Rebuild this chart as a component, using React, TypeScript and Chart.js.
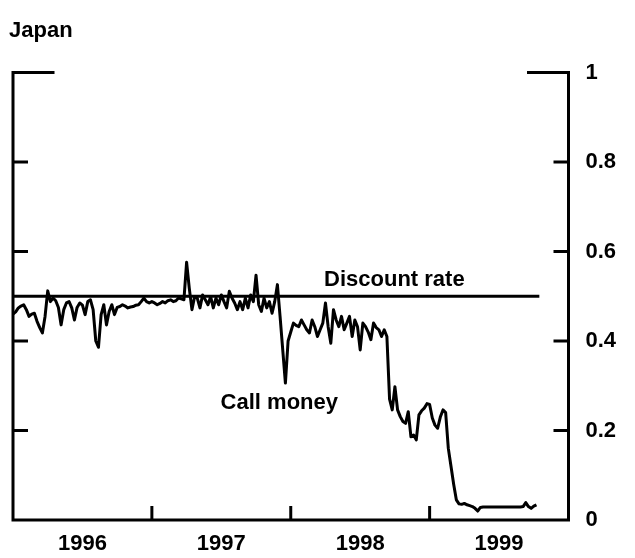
import React, { useEffect, useRef } from 'react';
import { Chart, registerables } from 'chart.js';

Chart.register(...registerables);

// ---- data ----
const chartTitle = 'Japan';
const discountLabel = 'Discount rate';
const callLabel = 'Call money';

const startYear = 1996;
const weeksPerYear = 52;

const callMoney1996 = [
  0.460, 0.465, 0.474, 0.478, 0.481, 0.470, 0.455, 0.460, 0.462, 0.444, 0.430, 0.418, 0.455,
  0.512, 0.488, 0.496, 0.490, 0.475, 0.436, 0.470, 0.485, 0.488, 0.474, 0.447, 0.475, 0.485,
  0.480, 0.459, 0.488, 0.492, 0.470, 0.400, 0.386, 0.459, 0.481, 0.436, 0.466, 0.481, 0.459,
  0.475, 0.477, 0.481, 0.478, 0.474, 0.476, 0.477, 0.480, 0.481, 0.488, 0.496, 0.488, 0.485,
];
const callMoney1997 = [
  0.488, 0.485, 0.481, 0.484, 0.488, 0.485, 0.490, 0.492, 0.488, 0.490, 0.496, 0.494, 0.492,
  0.576, 0.518, 0.470, 0.499, 0.496, 0.474, 0.503, 0.492, 0.481, 0.499, 0.474, 0.496, 0.481,
  0.503, 0.488, 0.474, 0.511, 0.496, 0.485, 0.470, 0.488, 0.470, 0.496, 0.474, 0.503, 0.488,
  0.547, 0.481, 0.466, 0.496, 0.474, 0.488, 0.462, 0.488, 0.526, 0.455, 0.380, 0.306, 0.400,
];
const callMoney1998 = [
  0.420, 0.440, 0.435, 0.432, 0.447, 0.436, 0.425, 0.418, 0.447, 0.432, 0.410, 0.425, 0.440,
  0.485, 0.432, 0.395, 0.470, 0.447, 0.432, 0.455, 0.425, 0.440, 0.455, 0.410, 0.447, 0.432,
  0.380, 0.440, 0.432, 0.420, 0.403, 0.440, 0.430, 0.425, 0.410, 0.425, 0.410, 0.270, 0.246,
  0.298, 0.246, 0.231, 0.220, 0.216, 0.242, 0.186, 0.190, 0.179, 0.235, 0.244, 0.250, 0.260,
];
const callMoney1999 = [
  0.258, 0.228, 0.212, 0.205, 0.230, 0.246, 0.240, 0.160, 0.120, 0.080, 0.045, 0.036, 0.035,
  0.037, 0.034, 0.032, 0.030, 0.026, 0.020, 0.028, 0.029, 0.029, 0.029, 0.029, 0.029, 0.029,
  0.029, 0.029, 0.029, 0.029, 0.029, 0.029, 0.029, 0.029, 0.029, 0.030, 0.039, 0.030, 0.026,
  0.031, 0.034,
];

const discountRateValue = 0.5;
const discountStart = 1996.0;
const discountEnd = 1999.79;

const xMin = 1996;
const xMax = 2000;
const yMin = 0;
const yMax = 1;
const yStep = 0.2;

// label anchors in data coordinates
const discountLabelAt = { x: 1998.24, y: 0.523 };
const callLabelAt = { x: 1997.495, y: 0.248 };

// ---- styles ----
const FONT = '"Liberation Sans", Arial, Helvetica, sans-serif';
const FONT_SIZE = 22;
const FONT_WEIGHT = 'bold';
const INK = '#000000';

const framePlugin = {
  id: 'framePlugin',
  afterDraw(chart: any) {
    const ctx = chart.ctx;
    const { left, right, top, bottom } = chart.chartArea;
    const xs = chart.scales.x;
    const ys = chart.scales.y;
    ctx.save();
    ctx.strokeStyle = INK;
    ctx.lineWidth = 3;
    ctx.lineCap = 'square';
    ctx.lineJoin = 'miter';

    // bracket frame
    ctx.beginPath();
    ctx.moveTo(left + 40, top);
    ctx.lineTo(left, top);
    ctx.lineTo(left, bottom);
    ctx.lineTo(right, bottom);
    ctx.lineTo(right, top);
    ctx.lineTo(right - 40, top);
    ctx.stroke();

    ctx.lineCap = 'butt';
    // y ticks (inside, both sides)
    ys.ticks.forEach((t: any) => {
      if (t.value <= yMin + 1e-9 || t.value >= yMax - 1e-9) return;
      const py = ys.getPixelForValue(t.value);
      ctx.beginPath();
      ctx.moveTo(left, py);
      ctx.lineTo(left + 15, py);
      ctx.moveTo(right, py);
      ctx.lineTo(right - 15, py);
      ctx.stroke();
    });
    // x ticks at year boundaries
    xs.ticks.forEach((t: any) => {
      const v = t.value;
      if (Math.abs(v - Math.round(v)) > 1e-6) return;
      if (v <= xMin || v >= xMax) return;
      const px = xs.getPixelForValue(v);
      ctx.beginPath();
      ctx.moveTo(px, bottom);
      ctx.lineTo(px, bottom - 14);
      ctx.stroke();
    });

    // texts
    ctx.fillStyle = INK;
    ctx.font = `${FONT_WEIGHT} ${FONT_SIZE}px ${FONT}`;
    ctx.textAlign = 'left';
    ctx.textBaseline = 'alphabetic';
    ctx.fillText(chartTitle, 9, 37);
    ctx.fillText(
      discountLabel,
      xs.getPixelForValue(discountLabelAt.x),
      ys.getPixelForValue(discountLabelAt.y)
    );
    ctx.fillText(
      callLabel,
      xs.getPixelForValue(callLabelAt.x),
      ys.getPixelForValue(callLabelAt.y)
    );
    ctx.restore();
  },
};

export default function App() {
  const canvasRef = useRef<HTMLCanvasElement | null>(null);

  useEffect(() => {
    if (!canvasRef.current) return;
    const allCall = [...callMoney1996, ...callMoney1997, ...callMoney1998, ...callMoney1999];
    const callData = allCall.map((v, i) => ({ x: startYear + i / weeksPerYear, y: v }));
    const discountData = [
      { x: discountStart, y: discountRateValue },
      { x: discountEnd, y: discountRateValue },
    ];

    const tickFont = { family: FONT, size: FONT_SIZE, weight: FONT_WEIGHT as any };

    const chart = new Chart(canvasRef.current, {
      type: 'line',
      data: {
        datasets: [
          {
            label: discountLabel,
            data: discountData,
            borderColor: INK,
            borderWidth: 3,
            pointRadius: 0,
            fill: false,
          },
          {
            label: callLabel,
            data: callData,
            borderColor: INK,
            borderWidth: 3,
            pointRadius: 0,
            fill: false,
            borderJoinStyle: 'round',
            tension: 0,
          },
        ],
      },
      options: {
        responsive: false,
        animation: false,
        devicePixelRatio: 1,
        parsing: false as any,
        layout: { padding: { left: 13, top: 72.5, right: 0, bottom: 0 } },
        plugins: {
          legend: { display: false },
          tooltip: { enabled: false },
          title: { display: false },
        },
        scales: {
          x: {
            type: 'linear',
            position: 'bottom',
            min: xMin,
            max: xMax,
            grid: { display: false, drawTicks: false },
            border: { display: false },
            afterFit: (s: any) => {
              s.height = 38;
            },
            ticks: {
              stepSize: 0.5,
              autoSkip: false,
              maxRotation: 0,
              padding: 11,
              color: INK,
              font: tickFont,
              callback: (v: any) => {
                const n = Number(v);
                const f = n - Math.floor(n);
                return Math.abs(f - 0.5) < 1e-6 ? String(Math.floor(n)) : '';
              },
            },
          },
          y: {
            type: 'linear',
            position: 'right',
            min: yMin,
            max: yMax,
            grid: { display: false, drawTicks: false },
            border: { display: false },
            afterFit: (s: any) => {
              s.width = 66.5;
            },
            ticks: {
              stepSize: yStep,
              padding: 17,
              color: INK,
              font: tickFont,
              callback: (v: any) => {
                const n = Math.round(Number(v) * 10) / 10;
                if (n === 0) return '0';
                if (n === 1) return '1';
                return n.toFixed(1);
              },
            },
          },
        },
      },
      plugins: [framePlugin],
    });
    return () => chart.destroy();
  }, []);

  return (
    <div
      style={{
        position: 'fixed',
        left: 0,
        top: 0,
        width: 635,
        height: 558,
        background: '#ffffff',
      }}
    >
      <canvas ref={canvasRef} width={635} height={558} style={{ display: 'block' }} />
    </div>
  );
}
